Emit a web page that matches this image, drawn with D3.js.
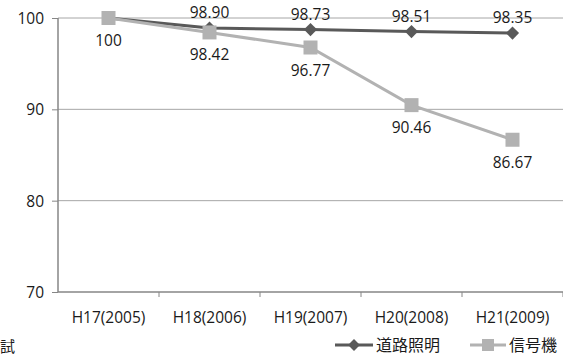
<!DOCTYPE html>
<html><head><meta charset="utf-8">
<script src="https://cdn.jsdelivr.net/npm/d3@7/dist/d3.min.js"></script>
<style>body{margin:0;background:#fff}svg{display:block}text{font-family:"Open Sans","Noto Sans CJK JP",sans-serif;fill:#1a1a1a}</style>
</head><body><svg id="c" width="563" height="356"></svg>
<script>
const categories = ["H17(2005)","H18(2006)","H19(2007)","H20(2008)","H21(2009)"];
const seriesNames = ["道路照明","信号機"];
const roadLighting = [100, 98.90, 98.73, 98.51, 98.35];
const signals = [100, 98.42, 96.77, 90.46, 86.67];
const roadLabels = [null, "98.90", "98.73", "98.51", "98.35"];
const signalLabels = ["100", "98.42", "96.77", "90.46", "86.67"];
const yTicks = [70, 80, 90, 100];

const FS = 15.5;
const svg = d3.select("#c");
const x = d3.scaleBand().domain(categories).range([58, 563]);
const y = d3.scaleLinear().domain([70, 100]).range([292, 18]);

// gridlines
svg.append("g").selectAll("line").data(yTicks.filter(d=>d>70)).join("line")
  .attr("x1", 58).attr("x2", 563).attr("y1", d=>y(d)).attr("y2", d=>y(d))
  .attr("stroke", "#a6a6a6").attr("stroke-width", 1);

// y axis
const yAxis = svg.append("g").attr("transform","translate(58,0)")
  .call(d3.axisLeft(y).tickValues(yTicks).tickSize(6).tickPadding(8).tickFormat(d3.format("d")));
yAxis.attr("font-size", FS).attr("font-family", null);
yAxis.select(".domain").attr("stroke","#868686").attr("stroke-width",1.5).attr("d","M0,18V292");
yAxis.selectAll(".tick line").attr("stroke","#868686");
yAxis.selectAll("text").attr("font-size",FS).attr("dy","0.36em");

// x axis
const xAxis = svg.append("g").attr("transform","translate(0,292)")
  .call(d3.axisBottom(x).tickSize(0).tickPadding(20));
xAxis.attr("font-size", FS).attr("font-family", null);
xAxis.select(".domain").attr("stroke","#868686").attr("stroke-width",1.5).attr("d","M58,0H563");
xAxis.selectAll("text").attr("font-size",FS);
svg.append("g").selectAll("line").data(categories).join("line")
  .attr("x1", (d,i)=>58 + x.step()*(i+1)).attr("x2",(d,i)=>58 + x.step()*(i+1))
  .attr("y1",292).attr("y2",297).attr("stroke","#868686");

const cx = c => x(c) + x.bandwidth()/2;
const line = d3.line().x((d,i)=>cx(categories[i])).y(d=>y(d));

// road lighting (dark)
svg.append("path").datum(roadLighting).attr("d", line).attr("fill","none")
  .attr("stroke","#595959").attr("stroke-width",3);
svg.append("g").selectAll("path").data(roadLighting).join("path")
  .attr("d", d3.symbol().type(d3.symbolDiamond2).size(110))
  .attr("transform",(d,i)=>`translate(${cx(categories[i])},${y(d)})`)
  .attr("fill","#595959");

// signals (light)
svg.append("path").datum(signals).attr("d", line).attr("fill","none")
  .attr("stroke","#b2b2b2").attr("stroke-width",3);
svg.append("g").selectAll("rect").data(signals).join("rect")
  .attr("x",(d,i)=>cx(categories[i])-7).attr("y",d=>y(d)-7)
  .attr("width",14).attr("height",14).attr("fill","#b2b2b2");

// labels
svg.append("g").selectAll("text").data(roadLighting).join("text")
  .attr("x",(d,i)=>cx(categories[i])).attr("y",d=>y(d)-10)
  .attr("text-anchor","middle").attr("font-size",FS)
  .text((d,i)=>roadLabels[i] || "");
svg.append("g").selectAll("text").data(signals).join("text")
  .attr("x",(d,i)=>cx(categories[i])).attr("y",d=>y(d)+28)
  .attr("text-anchor","middle").attr("font-size",FS)
  .text((d,i)=>signalLabels[i]);

// legend
const lg = svg.append("g");
lg.append("line").attr("x1",335).attr("x2",373).attr("y1",345).attr("y2",345).attr("stroke","#595959").attr("stroke-width",3);
lg.append("path").attr("d",d3.symbol().type(d3.symbolDiamond2).size(90)).attr("transform","translate(354,345)").attr("fill","#595959");
lg.append("text").attr("x",376).attr("y",351).attr("font-size",16).style("font-family","Noto Sans CJK JP").text(seriesNames[0]);
lg.append("line").attr("x1",470).attr("x2",506).attr("y1",345).attr("y2",345).attr("stroke","#b2b2b2").attr("stroke-width",3);
lg.append("rect").attr("x",482).attr("y",339).attr("width",12).attr("height",12).attr("fill","#b2b2b2");
lg.append("text").attr("x",509).attr("y",351).attr("font-size",16).style("font-family","Noto Sans CJK JP").text(seriesNames[1]);

// partially visible note at bottom-left
svg.append("text").attr("x",0).attr("y",352).attr("font-size",15).style("font-family","Noto Sans CJK JP").text("試");
</script></body></html>
